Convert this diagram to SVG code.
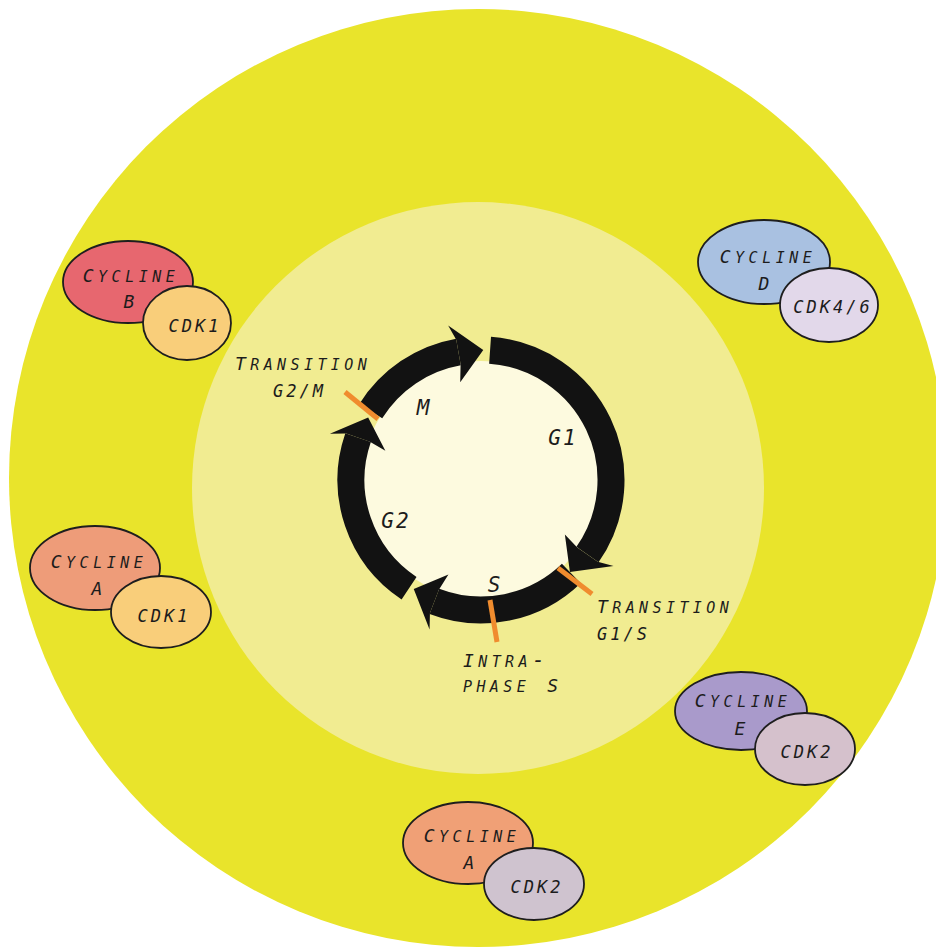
<svg xmlns="http://www.w3.org/2000/svg" width="936" height="952" viewBox="0 0 936 952">
<style>
text{font-family:"DejaVu Sans Mono","Liberation Mono",monospace;font-style:italic;fill:#1c1c1c}
.ph{font-size:21px;letter-spacing:2px;text-anchor:middle}
.sc{font-size:18px;letter-spacing:4.4px}
.sm{font-size:21px;font-variant:small-caps}
.lb{font-size:17px;letter-spacing:3px}
.cy{font-size:18px;letter-spacing:4.5px;text-anchor:middle}
.one{font-size:18px;text-anchor:middle}
.cdk{font-size:17px;letter-spacing:3px;text-anchor:middle}
.arc{fill:none;stroke:#121212;stroke-width:27}
.head{fill:#121212}
.tr{stroke:#F08C2E;stroke-width:5;stroke-linecap:butt}
ellipse{stroke:#1e1e1e;stroke-width:1.8}
</style>
<rect width="936" height="952" fill="#ffffff"/>
<circle cx="478" cy="478" r="469" fill="#E9E42B"/>
<circle cx="478" cy="488" r="286" fill="#F1EC91"/>
<circle cx="481" cy="480" r="119" fill="#FDFADF"/>

<g id="connectors">
<path class="arc" d="M370.76 411.11 A130 130 0 0 1 458.43 351.97"/>
<polygon class="head" points="448.15,325.45 483.27,350.02 460.21,382.18 460.60,364.28 456.25,339.66"/>
<path class="arc" d="M490.07 350.32 A130 130 0 0 1 587.49 554.57"/>
<polygon class="head" points="613.51,566.05 569.92,572.08 564.87,534.46 577.25,547.40 597.73,561.73"/>
<path class="arc" d="M571.31 573.51 A130 130 0 0 1 434.41 601.37"/>
<polygon class="head" points="429.56,629.39 413.74,588.90 448.44,574.55 438.89,589.70 429.93,613.04"/>
<path class="arc" d="M409.06 588.28 A130 130 0 0 1 358.08 437.68"/>
<polygon class="head" points="329.90,433.81 368.17,417.46 385.37,450.76 369.90,441.75 346.26,433.61"/>
<line class="tr" x1="345" y1="392" x2="378" y2="419"/>
<line class="tr" x1="558" y1="568" x2="592" y2="594"/>
<line class="tr" x1="490" y1="600" x2="497" y2="642"/>
</g>

<g id="phases">
<text class="ph" x="424" y="415">M</text>
<text class="ph" x="563" y="445">G1</text>
<text class="ph" x="396" y="528">G2</text>
<text class="ph" x="495" y="592">S</text>
</g>

<g id="transition-g2m">
<text class="sc" x="235" y="370">T<tspan class="sm">ransition</tspan></text>
<text class="lb" x="273" y="397">G2/M</text>
</g>
<g id="transition-g1s">
<text class="sc" x="597" y="613">T<tspan class="sm">ransition</tspan></text>
<text class="lb" x="597" y="640">G1/S</text>
</g>
<g id="intra-s">
<text class="sc" x="463" y="667">I<tspan class="sm">ntra-</tspan></text>
<text class="sc" x="463" y="692"><tspan class="sm">phase </tspan>S</text>
</g>

<g id="cycline-b-cdk1">
<ellipse cx="128" cy="282" rx="65" ry="41" fill="#E7676F"/>
<text class="cy" x="131" y="282">C<tspan class="sm">ycline</tspan></text>
<text class="one" x="129" y="308">B</text>
<ellipse cx="187" cy="323" rx="44" ry="37" fill="#F9CE7A"/>
<text class="cdk" x="195" y="332">CDK1</text>
</g>

<g id="cycline-d-cdk46">
<ellipse cx="764" cy="262" rx="66" ry="42" fill="#A9C1E1"/>
<text class="cy" x="768" y="263">C<tspan class="sm">ycline</tspan></text>
<text class="one" x="764" y="290">D</text>
<ellipse cx="829" cy="305" rx="49" ry="37" fill="#E2D8EA"/>
<text class="cdk" x="833" y="313">CDK4/6</text>
</g>

<g id="cycline-a-cdk1">
<ellipse cx="95" cy="568" rx="65" ry="42" fill="#EE9C79"/>
<text class="cy" x="99" y="568">C<tspan class="sm">ycline</tspan></text>
<text class="one" x="97" y="595">A</text>
<ellipse cx="161" cy="612" rx="50" ry="36" fill="#F9CE7A"/>
<text class="cdk" x="164" y="622">CDK1</text>
</g>

<g id="cycline-e-cdk2">
<ellipse cx="741" cy="711" rx="66" ry="39" fill="#A99ACB"/>
<text class="cy" x="743" y="707">C<tspan class="sm">ycline</tspan></text>
<text class="one" x="740" y="735">E</text>
<ellipse cx="805" cy="749" rx="50" ry="36" fill="#D5C1CC"/>
<text class="cdk" x="807" y="758">CDK2</text>
</g>

<g id="cycline-a-cdk2">
<ellipse cx="468" cy="843" rx="65" ry="41" fill="#F0A076"/>
<text class="cy" x="472" y="842">C<tspan class="sm">ycline</tspan></text>
<text class="one" x="469" y="869">A</text>
<ellipse cx="534" cy="884" rx="50" ry="36" fill="#CFC3CF"/>
<text class="cdk" x="537" y="893">CDK2</text>
</g>
</svg>
